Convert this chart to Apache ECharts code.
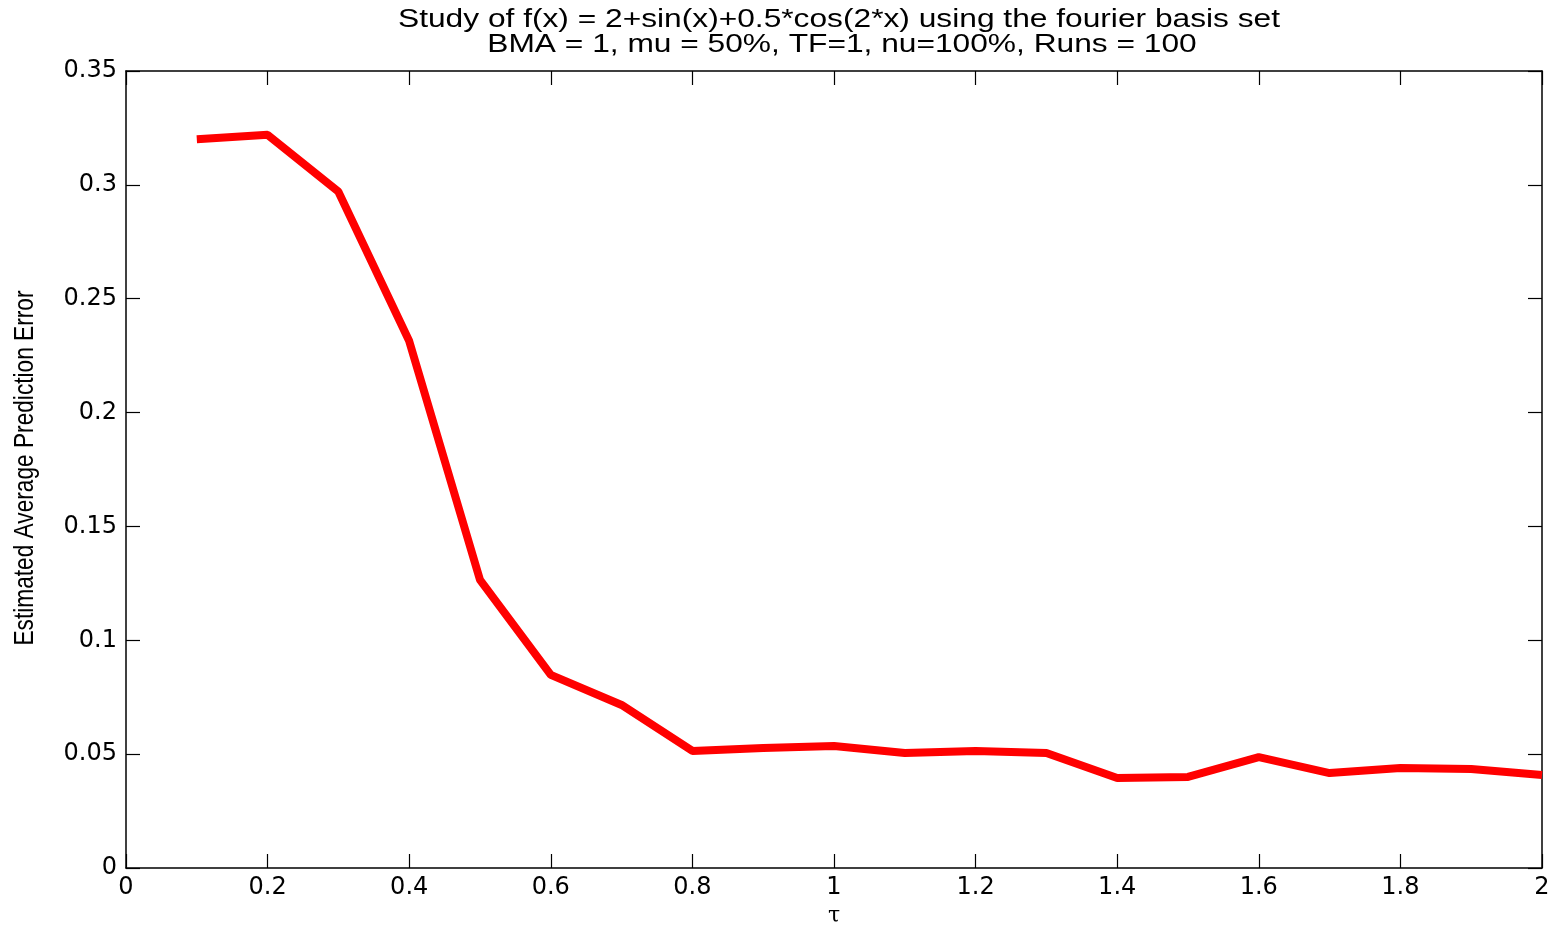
<!DOCTYPE html>
<html><head><meta charset="utf-8">
<script src="https://cdn.jsdelivr.net/npm/echarts@6/dist/echarts.min.js"></script>
<style>html,body{margin:0;padding:0;background:#fff}#c{width:1555px;height:925px}</style>
</head><body><div id="c"></div>
<script>
const titleLines = ["Study of f(x) = 2+sin(x)+0.5*cos(2*x) using the fourier basis set", "BMA = 1, mu = 50%, TF=1, nu=100%, Runs = 100"];
const xName = "τ";
const yName = "Estimated Average Prediction Error";
const tau = [0.1,0.2,0.3,0.4,0.5,0.6,0.7,0.8,0.9,1.0,1.1,1.2,1.3,1.4,1.5,1.6,1.7,1.8,1.9,2.0];
const err = [0.320,0.322,0.297,0.2314,0.1265,0.0848,0.0716,0.0514,0.0527,0.0536,0.0505,0.0514,0.0505,0.0395,0.0400,0.0487,0.0417,0.0439,0.0435,0.0408];

function measure(text, font){
  const c = document.createElement('canvas').getContext('2d');
  c.font = font; return c.measureText(text).width;
}
const titleFont = '25px "Liberation Sans"';
const titleScale = 882 / measure(titleLines[0], titleFont);
const yFont = '28px "Liberation Sans"';
const yScale = 355 / measure(yName, yFont);

const chart = echarts.init(document.getElementById('c'));
const tickFont = {fontFamily:'DejaVu Sans', fontSize:24, color:'#000'};
const axLine = {onZero:false, lineStyle:{color:'#000', width:1.5}};
const tick = {inside:true, length:14, lineStyle:{color:'#000', width:1.2}};
chart.setOption({
  animation:false,
  grid:{left:126, right:13, top:71, bottom:57, outerBoundsMode:'none', containLabel:false},
  graphic:[
    {type:'text', x:839, y:20, scaleX:titleScale, style:{text:titleLines[0], font:titleFont, fill:'#000', align:'center', verticalAlign:'middle'}},
    {type:'text', x:842, y:45, scaleX:titleScale, style:{text:titleLines[1], font:titleFont, fill:'#000', align:'center', verticalAlign:'middle'}},
    {type:'text', x:25, y:468, rotation:Math.PI/2, scaleX:yScale, style:{text:yName, font:yFont, fill:'#000', align:'center', verticalAlign:'middle'}}
  ],
  xAxis:[{type:'value', min:0, max:2, interval:0.2, position:'bottom',
    name:xName, nameLocation:'middle', nameGap:36, nameTextStyle:{fontFamily:'DejaVu Serif', fontSize:22, color:'#000'},
    axisLine:axLine, axisTick:tick,
    axisLabel:Object.assign({margin:8, formatter:v=>String(+v.toFixed(1))}, tickFont), splitLine:{show:false}},
   {type:'value', min:0, max:2, interval:0.2, position:'top',
    axisLine:axLine, axisTick:tick, axisLabel:{show:false}, splitLine:{show:false}}],
  yAxis:[{type:'value', min:0, max:0.35, interval:0.05, position:'left',
    axisLine:axLine, axisTick:tick,
    axisLabel:Object.assign({margin:9, formatter:v=>String(+v.toFixed(2))}, tickFont), splitLine:{show:false}},
   {type:'value', min:0, max:0.35, interval:0.05, position:'right',
    axisLine:axLine, axisTick:tick, axisLabel:{show:false}, splitLine:{show:false}}],
  series:[{type:'line', xAxisIndex:0, yAxisIndex:0, data:tau.map((t,i)=>[t,err[i]]), showSymbol:false, symbol:'none',
    lineStyle:{color:'#ff0000', width:8}, clip:true}]
});
</script></body></html>
